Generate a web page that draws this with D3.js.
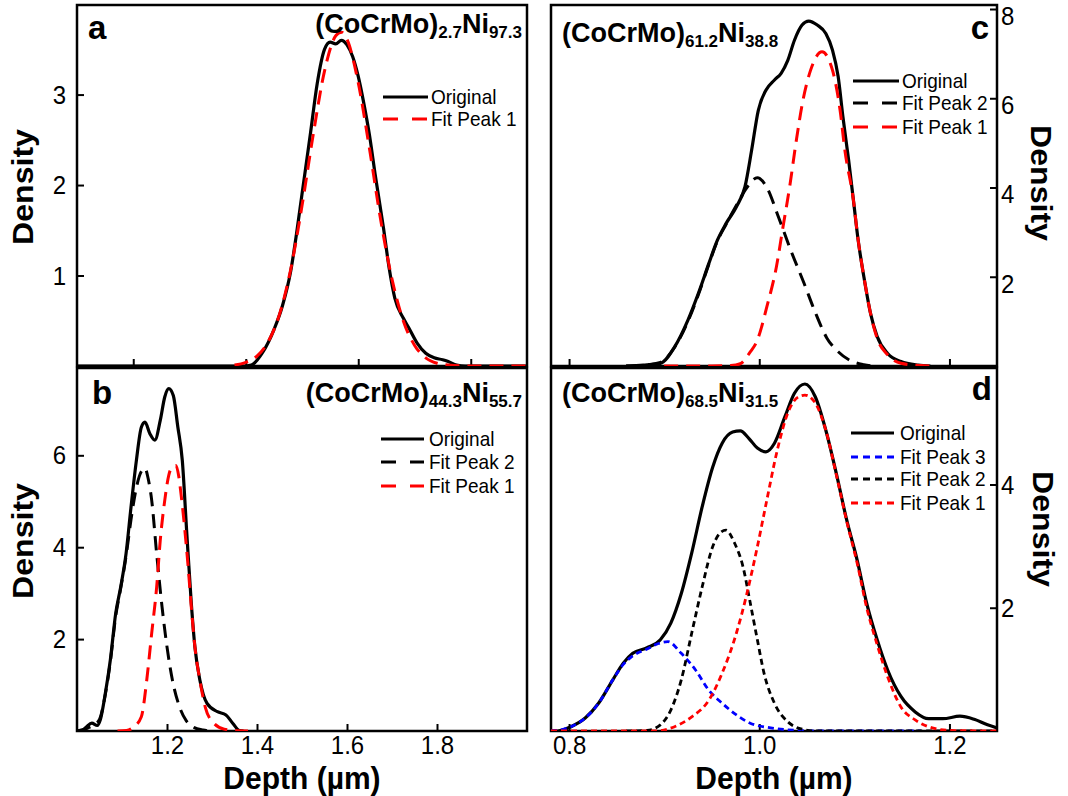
<!DOCTYPE html>
<html><head><meta charset="utf-8">
<script src="https://cdn.jsdelivr.net/npm/d3@7"></script>
<style>body{margin:0;background:#fff}svg{display:block}</style>
</head><body>
<script>
// ---------------- DATA ----------------
const panelLetters = ["a", "b", "c", "d"];
const compSubA = ["2.7", "44.3", "61.2", "68.5"];
const compSubB = ["97.3", "55.7", "38.8", "31.5"];
const xTicksA = [1.2, 1.4, 1.6, 1.8];
const xTicksB = [1.2, 1.4, 1.6, 1.8];
const xTicksCD = [0.8, 1.0, 1.2];
const yTicksA = [1, 2, 3];
const yTicksB = [2, 4, 6];
const yTicksC = [2, 4, 6, 8];
const yTicksD = [2, 4];

const aOriginal = [[1.10,0],[1.40,0],[1.41,0.01],[1.43,0.15],[1.45,0.40],[1.465,0.66],[1.48,1.05],[1.49,1.45],[1.50,1.90],[1.515,2.57],[1.527,3.12],[1.54,3.50],[1.55,3.58],[1.56,3.56],[1.57,3.60],[1.58,3.55],[1.59,3.42],[1.60,3.20],[1.61,2.90],[1.62,2.55],[1.63,2.12],[1.645,1.52],[1.655,1.08],[1.665,0.75],[1.68,0.53],[1.69,0.42],[1.705,0.25],[1.72,0.14],[1.735,0.09],[1.75,0.07],[1.76,0.05],[1.775,0.01],[1.79,0],[1.90,0]];
const aPeak1 = [[1.38,0.01],[1.40,0.04],[1.42,0.11],[1.44,0.27],[1.46,0.57],[1.48,1.07],[1.50,1.77],[1.52,2.56],[1.54,3.26],[1.56,3.65],[1.57,3.69],[1.58,3.61],[1.60,3.13],[1.62,2.40],[1.64,1.61],[1.66,0.96],[1.68,0.50],[1.70,0.23],[1.72,0.09],[1.74,0.03],[1.76,0.01],[1.80,0],[1.90,0]];

const bOriginal = [[1.00,0],[1.01,0],[1.02,0.08],[1.033,0.17],[1.045,0.12],[1.052,0.25],[1.063,0.82],[1.074,1.54],[1.086,2.56],[1.097,3.13],[1.109,3.86],[1.120,4.87],[1.132,5.89],[1.143,6.61],[1.151,6.72],[1.162,6.47],[1.173,6.33],[1.185,6.76],[1.195,7.27],[1.204,7.45],[1.214,7.30],[1.224,6.62],[1.234,5.89],[1.244,4.30],[1.254,2.78],[1.262,1.83],[1.273,1.11],[1.289,0.60],[1.312,0.42],[1.331,0.35],[1.346,0.17],[1.361,0.01],[1.37,0]];
const bPeak2 = [[1.00,0],[1.02,0.05],[1.04,0.15],[1.05,0.25],[1.063,0.80],[1.074,1.50],[1.086,2.50],[1.097,3.10],[1.109,3.80],[1.12,4.60],[1.132,5.30],[1.143,5.65],[1.151,5.72],[1.158,5.50],[1.166,5.02],[1.177,3.86],[1.189,2.70],[1.20,1.83],[1.212,1.11],[1.228,0.52],[1.243,0.22],[1.258,0.09],[1.28,0.02],[1.30,0]];
const bPeak1 = [[1.09,0],[1.11,0.01],[1.125,0.08],[1.143,0.31],[1.155,1.11],[1.166,2.13],[1.177,3.13],[1.185,4.15],[1.195,5.02],[1.204,5.57],[1.212,5.75],[1.22,5.78],[1.226,5.55],[1.231,5.17],[1.239,4.44],[1.247,3.57],[1.254,2.70],[1.262,1.83],[1.273,1.11],[1.285,0.52],[1.304,0.17],[1.327,0.04],[1.35,0.01],[1.38,0]];

const cOriginal = [[0.86,0],[0.878,0.02],[0.896,0.06],[0.911,0.43],[0.925,1.03],[0.936,1.63],[0.947,2.30],[0.956,2.82],[0.965,3.19],[0.976,3.57],[0.985,4.02],[0.992,4.84],[0.999,5.73],[1.007,6.18],[1.016,6.41],[1.023,6.56],[1.030,6.85],[1.037,7.30],[1.045,7.64],[1.052,7.73],[1.061,7.64],[1.070,7.45],[1.077,7.08],[1.083,6.48],[1.088,5.58],[1.094,4.61],[1.099,3.72],[1.104,2.82],[1.110,2.00],[1.117,1.18],[1.124,0.66],[1.135,0.28],[1.149,0.10],[1.167,0.02],[1.18,0]];
const cPeak2 = [[0.86,0],[0.878,0.02],[0.896,0.08],[0.911,0.42],[0.925,1.0],[0.936,1.6],[0.947,2.28],[0.956,2.80],[0.965,3.17],[0.976,3.60],[0.987,4.0],[0.998,4.22],[1.008,4.0],[1.02,3.35],[1.033,2.60],[1.047,1.86],[1.058,1.25],[1.071,0.63],[1.083,0.32],[1.095,0.13],[1.11,0.03],[1.12,0]];
const cPeak1 = [[0.90,0],[0.95,0],[0.97,0.01],[0.98,0.05],[0.99,0.30],[0.998,0.58],[1.008,1.33],[1.018,2.22],[1.025,3.12],[1.032,4.02],[1.039,5.06],[1.046,5.96],[1.054,6.63],[1.066,7.04],[1.077,6.63],[1.085,5.73],[1.090,4.84],[1.099,3.72],[1.104,2.82],[1.110,2.00],[1.117,1.18],[1.124,0.62],[1.135,0.25],[1.149,0.06],[1.17,0.01],[1.18,0]];

const dOriginal = [[0.781,0],[0.788,0],[0.802,0.07],[0.817,0.21],[0.831,0.45],[0.846,0.83],[0.857,1.10],[0.867,1.26],[0.882,1.35],[0.896,1.48],[0.907,1.75],[0.918,2.23],[0.929,2.89],[0.940,3.64],[0.951,4.28],[0.961,4.67],[0.972,4.85],[0.980,4.87],[0.989,4.75],[0.998,4.59],[1.007,4.53],[1.016,4.67],[1.027,5.10],[1.037,5.48],[1.048,5.63],[1.059,5.42],[1.070,4.88],[1.081,4.18],[1.092,3.42],[1.103,2.77],[1.113,2.07],[1.124,1.48],[1.135,0.99],[1.149,0.56],[1.164,0.31],[1.178,0.20],[1.193,0.20],[1.211,0.24],[1.226,0.19],[1.240,0.10],[1.25,0.05]];
const dPeak3 = [[0.781,0],[0.788,0.01],[0.802,0.07],[0.817,0.21],[0.831,0.45],[0.846,0.83],[0.857,1.08],[0.867,1.22],[0.882,1.33],[0.894,1.42],[0.904,1.45],[0.918,1.26],[0.933,0.99],[0.947,0.66],[0.961,0.45],[0.976,0.26],[0.990,0.13],[1.012,0.05],[1.04,0.01],[1.06,0],[1.17,0]];
const dPeak2 = [[0.86,0],[0.882,0.01],[0.896,0.10],[0.907,0.34],[0.918,0.83],[0.929,1.59],[0.940,2.34],[0.951,2.99],[0.960,3.23],[0.965,3.26],[0.974,3.05],[0.983,2.66],[0.990,2.12],[0.998,1.48],[1.005,0.94],[1.016,0.45],[1.030,0.15],[1.045,0.03],[1.06,0],[1.25,0]];
const dPeak1 = [[0.781,0],[0.89,0],[0.911,0.07],[0.929,0.23],[0.947,0.50],[0.961,0.94],[0.976,1.59],[0.987,2.23],[0.998,2.99],[1.008,3.75],[1.019,4.56],[1.030,5.16],[1.041,5.42],[1.048,5.45],[1.059,5.32],[1.070,4.88],[1.081,4.16],[1.092,3.40],[1.103,2.72],[1.113,2.00],[1.124,1.40],[1.135,0.88],[1.149,0.39],[1.164,0.18],[1.182,0.05],[1.20,0.01],[1.25,0]];

// ---------------- DRAWING ----------------
const W = 1068, H = 796;
const FONT = '"Liberation Sans", Arial, Helvetica, sans-serif';
const svg = d3.select("body").append("svg").attr("width", W).attr("height", H)
  .style("font-family", FONT);

const LONG = "14,8", SHORT = "6,4";

function stretch(sel, s) {
  sel.style("transform-box", "fill-box").style("transform-origin", "center").style("transform", `scaleY(${s})`);
}

function drawPanel(p, idx) {
  const x = d3.scaleLinear().domain(p.xDomain).range([p.left, p.right]);
  const y = d3.scaleLinear().domain(p.yDomain).range([p.bottom, p.top]);
  const g = svg.append("g");
  const clipId = "clip" + idx;
  svg.append("clipPath").attr("id", clipId).append("rect")
    .attr("x", p.left).attr("y", p.top).attr("width", p.right - p.left).attr("height", p.bottom - p.top);

  // axes
  const xa = d3.axisBottom(x).tickValues(p.xTicks).tickSizeInner(-7).tickSizeOuter(0).tickPadding(5)
    .tickFormat(p.xLabels ? d3.format(".1f") : () => "");
  const gx = g.append("g").attr("transform", `translate(0,${p.bottom})`).call(xa);
  gx.select(".domain").remove();
  gx.selectAll("line").attr("stroke", "#000").attr("stroke-width", 2);
  gx.selectAll("text").attr("fill", "#000").attr("font-size", 24).attr("font-family", FONT).call(stretch, 1.1);

  let ya;
  if (p.ySide === "left") {
    ya = d3.axisLeft(y).tickValues(p.yTicks).tickSizeInner(-7).tickSizeOuter(0).tickPadding(11).tickFormat(d3.format("d"));
  } else {
    ya = d3.axisRight(y).tickValues(p.yTicks).tickSizeInner(-7).tickSizeOuter(0).tickPadding(4).tickFormat(d3.format("d"));
  }
  const gy = g.append("g").attr("transform", `translate(${p.ySide === "left" ? p.left : p.right},0)`).call(ya);
  gy.select(".domain").remove();
  gy.selectAll("line").attr("stroke", "#000").attr("stroke-width", 2);
  gy.selectAll("text").attr("fill", "#000").attr("font-size", 24).attr("font-family", FONT)
    .attr("dy", p.yLabelDy).call(stretch, 1.1);

  // frame
  g.append("rect").attr("x", p.left).attr("y", p.top).attr("width", p.right - p.left).attr("height", p.bottom - p.top)
    .attr("fill", "none").attr("stroke", "#000").attr("stroke-width", 2.5);

  // series
  const line = d3.line().x(d => x(d[0])).y(d => y(d[1])).curve(d3.curveMonotoneX);
  const sg = g.append("g").attr("clip-path", `url(#${clipId})`);
  p.series.forEach(s => {
    sg.append("path").datum(s.data).attr("d", line).attr("fill", "none")
      .attr("stroke", s.color).attr("stroke-width", s.width)
      .attr("stroke-dasharray", s.dash || null).attr("stroke-linejoin", "round");
  });

  // legend
  p.legend.rows.forEach((rowY, i) => {
    const s = p.series[p.legend.order[i]];
    g.append("line").attr("x1", p.legend.x0).attr("x2", p.legend.x1).attr("y1", rowY).attr("y2", rowY)
      .attr("stroke", s.color).attr("stroke-width", s.width)
      .attr("stroke-dasharray", s.dash ? p.legend.dash : null);
    g.append("text").attr("x", p.legend.tx).attr("y", rowY + 7).attr("font-size", 19).attr("fill", "#000")
      .text(s.label).call(stretch, 1.05);
  });

  // panel letter
  g.append("text").attr("x", p.letter.x).attr("y", p.letter.y).attr("text-anchor", p.letter.anchor)
    .attr("font-size", 33).attr("font-weight", "bold").text(panelLetters[idx]);

  // composition label
  const t = g.append("text").attr("x", p.comp.x).attr("y", p.comp.y).attr("text-anchor", p.comp.anchor)
    .attr("font-weight", "bold").attr("font-size", 27);
  t.append("tspan").text("(CoCrMo)");
  t.append("tspan").attr("font-size", 17).attr("dy", 5).text(compSubA[idx]);
  t.append("tspan").attr("dy", -5).text("Ni");
  t.append("tspan").attr("font-size", 17).attr("dy", 5).text(compSubB[idx]);

  // y title
  const yt = p.yTitle;
  g.append("text").attr("transform", `translate(${yt.x},${yt.y}) rotate(${yt.rot}) scale(1.07,1)`)
    .attr("text-anchor", "middle").attr("font-size", 30).attr("font-weight", "bold").text("Density");

  // x title
  if (p.xTitle) {
    g.append("text").attr("x", (p.left + p.right) / 2).attr("y", p.xTitle)
      .attr("text-anchor", "middle").attr("font-size", 30).attr("font-weight", "bold").text("Depth (\u00b5m)")
      .call(stretch, 1.06);
  }
}

const panels = [
  { left: 77, right: 527, top: 5, bottom: 366, xDomain: [1.1, 1.9], yDomain: [0, 3.99],
    xTicks: xTicksA, yTicks: yTicksA, xLabels: false, ySide: "left", yLabelDy: "0.32em",
    series: [
      { data: aOriginal, color: "#000", width: 3.2, dash: null, label: "Original" },
      { data: aPeak1, color: "#ff0000", width: 3, dash: LONG, label: "Fit Peak 1" } ],
    legend: { x0: 383, x1: 428, tx: 431, rows: [97, 119], order: [0, 1], dash: "15,14" },
    letter: { x: 88, y: 39, anchor: "start" },
    comp: { x: 522, y: 33, anchor: "end" },
    yTitle: { x: 33, y: 187, rot: -90 }, xTitle: null },
  { left: 77, right: 527, top: 368, bottom: 731, xDomain: [1.0, 2.0], yDomain: [0, 7.9],
    xTicks: xTicksB, yTicks: yTicksB, xLabels: true, ySide: "left", yLabelDy: "0.32em",
    series: [
      { data: bOriginal, color: "#000", width: 3.2, dash: null, label: "Original" },
      { data: bPeak2, color: "#000", width: 3, dash: LONG, label: "Fit Peak 2" },
      { data: bPeak1, color: "#ff0000", width: 3, dash: LONG, label: "Fit Peak 1" } ],
    legend: { x0: 381, x1: 424, tx: 429, rows: [439, 462, 486], order: [0, 1, 2], dash: "15,14" },
    letter: { x: 92, y: 404, anchor: "start" },
    comp: { x: 522, y: 402, anchor: "end" },
    yTitle: { x: 33, y: 541, rot: -90 }, xTitle: 788 },
  { left: 551, right: 997, top: 5, bottom: 366, xDomain: [0.781, 1.25], yDomain: [0, 8.09],
    xTicks: xTicksCD, yTicks: yTicksC, xLabels: false, ySide: "right", yLabelDy: "0.6em",
    series: [
      { data: cOriginal, color: "#000", width: 3.2, dash: null, label: "Original" },
      { data: cPeak2, color: "#000", width: 3, dash: LONG, label: "Fit Peak 2" },
      { data: cPeak1, color: "#ff0000", width: 3, dash: LONG, label: "Fit Peak 1" } ],
    legend: { x0: 853, x1: 899, tx: 902, rows: [81, 103, 127], order: [0, 1, 2], dash: "15,14" },
    letter: { x: 989, y: 39, anchor: "end" },
    comp: { x: 562, y: 42, anchor: "start" },
    yTitle: { x: 1031, y: 183, rot: 90 }, xTitle: null },
  { left: 551, right: 997, top: 368, bottom: 731, xDomain: [0.781, 1.25], yDomain: [0, 5.89],
    xTicks: xTicksCD, yTicks: yTicksD, xLabels: true, ySide: "right", yLabelDy: "0.32em",
    series: [
      { data: dOriginal, color: "#000", width: 3.2, dash: null, label: "Original" },
      { data: dPeak3, color: "#0000ff", width: 2.8, dash: SHORT, label: "Fit Peak 3" },
      { data: dPeak2, color: "#000", width: 2.8, dash: SHORT, label: "Fit Peak 2" },
      { data: dPeak1, color: "#ff0000", width: 2.8, dash: SHORT, label: "Fit Peak 1" } ],
    legend: { x0: 851, x1: 894, tx: 900, rows: [433, 457, 479, 503], order: [0, 1, 2, 3], dash: "7,5" },
    letter: { x: 992, y: 400, anchor: "end" },
    comp: { x: 562, y: 402, anchor: "start" },
    yTitle: { x: 1033, y: 529, rot: 90 }, xTitle: 788 }
];

panels.forEach((p, i) => drawPanel(p, i));
</script>
</body></html>
